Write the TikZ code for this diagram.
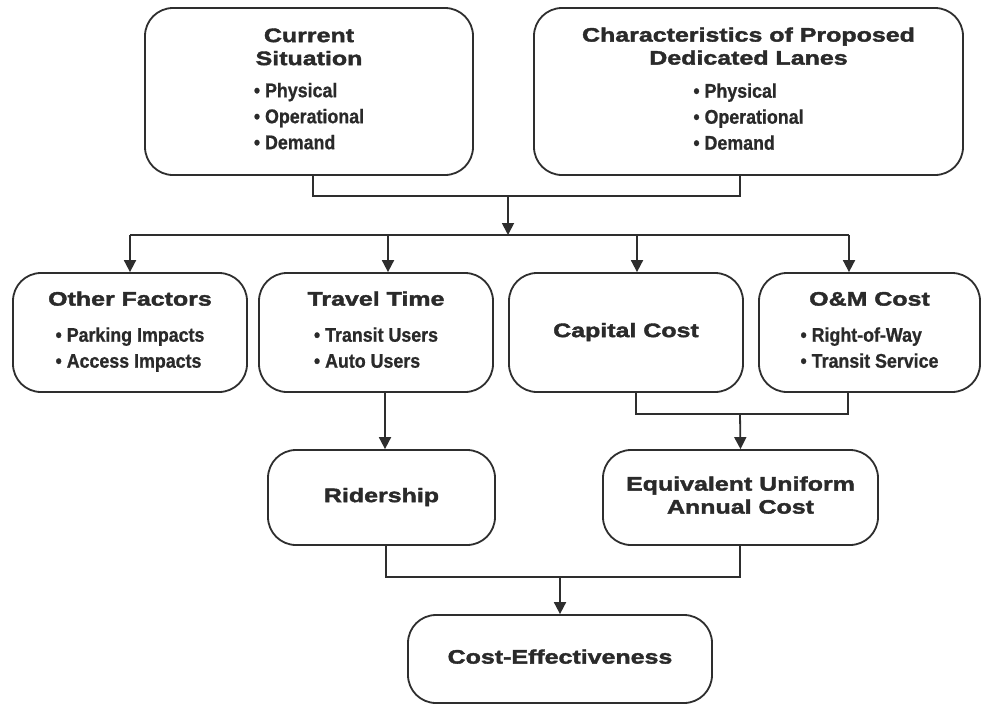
\documentclass[tikz,border=0pt]{standalone}
\usepackage{fontspec}
\usetikzlibrary{arrows.meta}
\setmainfont{Liberation Sans}
\newfontfamily\tfont[FakeStretch=1.28,BoldFeatures={FakeBold=2}]{Liberation Sans}
\newfontfamily\bfont[FakeStretch=0.9,BoldFeatures={FakeBold=0.8}]{Liberation Sans}
\definecolor{linec}{HTML}{2E2E2E}
\definecolor{txtc}{HTML}{2A2A2A}
\newcommand\ttl[1]{{\tfont\bfseries\fontsize{19.5}{23}\selectfont #1}}
\newcommand\blt[1]{{\bfont\bfseries\fontsize{19.8}{26}\selectfont\textbullet\ #1}}
\newcommand\blist[1]{{\fontsize{18}{26}\selectfont\begin{tabular}[t]{@{}l@{}}#1\end{tabular}}}
\newcommand\tbox[1]{{\fontsize{19.5}{23}\selectfont\begin{tabular}{@{}c@{}}#1\end{tabular}}}
\tikzset{
  box/.style={draw=linec, line width=1.8pt, rounded corners=28pt, fill=white,
    inner sep=0pt, text=txtc, align=center},
  conn/.style={draw=linec, line width=1.8pt},
  arr/.style={conn, -{Triangle[length=12pt,width=12pt]}},
}
\begin{document}
\begin{tikzpicture}[x=1pt,y=-1pt]
\useasboundingbox[fill=white] (0,0) rectangle (982,705);
% top row
\node[box, minimum width=328pt, minimum height=167pt] (cs) at (309,91.5)
  {\tbox{\ttl{Current}\\\ttl{Situation}\\[7pt]\blist{\blt{Physical}\\\blt{Operational}\\\blt{Demand}}}};
\node[box, minimum width=429pt, minimum height=167pt] (ch) at (748.5,91.5)
  {\tbox{\ttl{Characteristics of Proposed}\\\ttl{Dedicated Lanes}\\[8pt]\blist{\blt{Physical}\\\blt{Operational}\\\blt{Demand}}}};
% second row
\node[box, minimum width=234pt, minimum height=119pt] (of) at (130,332.5)
  {\tbox{\ttl{Other Factors}\\[11pt]\blist{\blt{Parking Impacts}\\\blt{Access Impacts}}}};
\node[box, minimum width=234pt, minimum height=119pt] (tt) at (376,332.5)
  {\tbox{\ttl{Travel Time}\\[11pt]\blist{\blt{Transit Users}\\\blt{Auto Users}}}};
\node[box, minimum width=234pt, minimum height=119pt] (cc) at (626,332.5)
  {\tbox{\ttl{Capital Cost}}};
\node[box, minimum width=221pt, minimum height=119pt] (om) at (869.5,332.5)
  {\tbox{\ttl{O\&M Cost}\\[11pt]\blist{\blt{Right-of-Way}\\\blt{Transit Service}}}};
% third row
\node[box, minimum width=227pt, minimum height=95pt] (rid) at (381.5,497.5)
  {\tbox{\ttl{Ridership}}};
\node[box, minimum width=275pt, minimum height=95pt] (eq) at (740.5,497.5)
  {\tbox{\ttl{Equivalent Uniform}\\\ttl{Annual Cost}}};
% bottom
\node[box, minimum width=304pt, minimum height=88pt] (ce) at (560,659)
  {\tbox{\ttl{Cost-Effectiveness}}};
% junctions
\coordinate (j1) at (508,196);
\coordinate (j2) at (508,235);
\coordinate (j3) at (740,414);
\coordinate (j4) at (560,577);
% connectors: top
\draw[conn] ([xshift=4pt]cs.south) |- (j1) -| ([xshift=-8.5pt]ch.south);
\draw[arr] (j1) -- (j2);
\draw[conn] (of.north |- j2) -- ([xshift=-20.5pt]om.north |- j2);
\draw[arr] (of.north |- j2) -- (of.north);
\draw[arr] ([xshift=12pt]tt.north |- j2) -- ([xshift=12pt]tt.north);
\draw[arr] ([xshift=11pt]cc.north |- j2) -- ([xshift=11pt]cc.north);
\draw[arr] ([xshift=-20.5pt]om.north |- j2) -- ([xshift=-20.5pt]om.north);
% travel time -> ridership
\draw[arr] ([xshift=3.5pt]rid.north |- tt.south) -- ([xshift=3.5pt]rid.north);
% costs -> EUAC
\draw[conn] ([xshift=10pt]cc.south) |- (j3) -| ([xshift=-21.5pt]om.south);
\draw[arr] (j3) -- (eq.north);
% -> cost-effectiveness
\draw[conn] ([xshift=4.5pt]rid.south) |- (j4) -| ([xshift=-0.5pt]eq.south);
\draw[arr] (j4) -- (ce.north);
\end{tikzpicture}
\end{document}
